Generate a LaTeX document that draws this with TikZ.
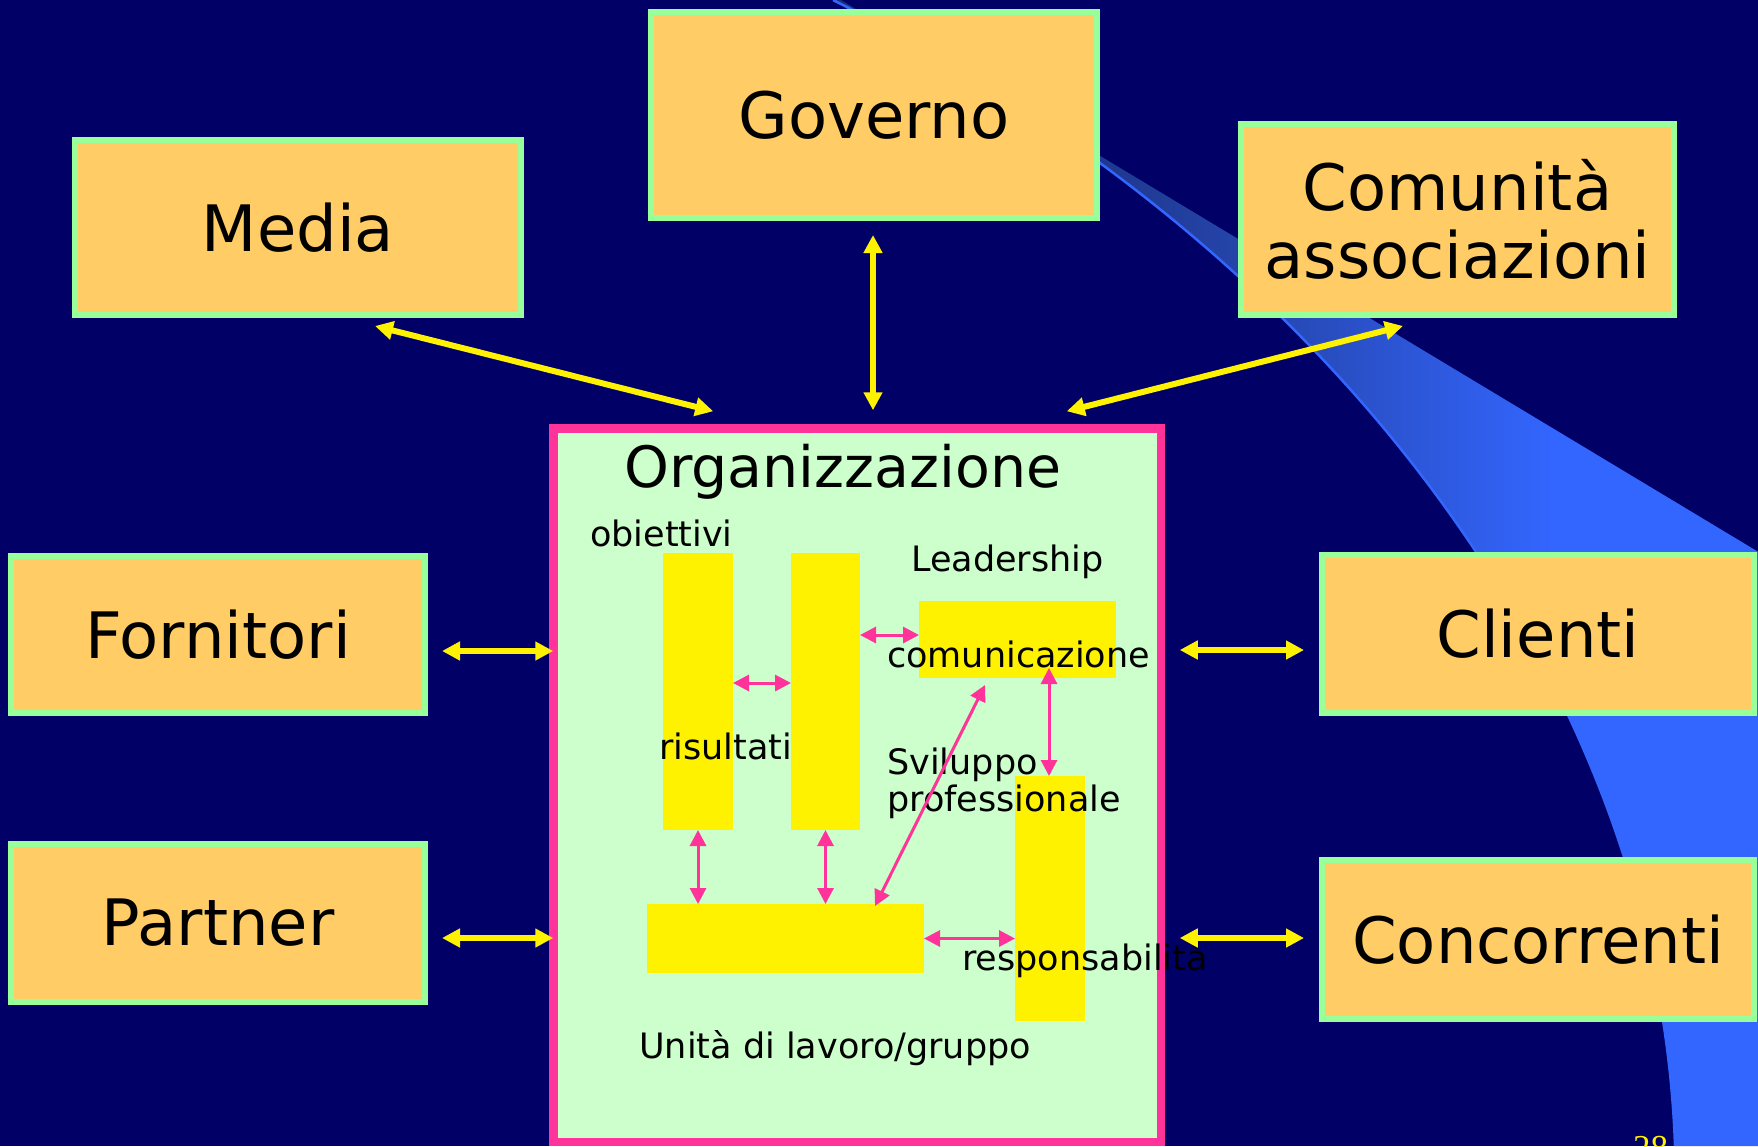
\documentclass[tikz,border=0pt]{standalone}
\usepackage{fontspec}
\setmainfont{DejaVu Sans}
\newfontfamily\numfont{Liberation Serif}
\usetikzlibrary{arrows.meta,calc}

\definecolor{navy}{HTML}{000066}
\definecolor{boxfill}{HTML}{FFCC66}
\definecolor{boxline}{HTML}{99FF99}
\definecolor{orgfill}{HTML}{CCFFCC}
\definecolor{orgline}{HTML}{FF3399}
\definecolor{bandA}{HTML}{1A2F7A}
\definecolor{bandB}{HTML}{2646AE}
\definecolor{bandC}{HTML}{3366FF}

% horizontal blend for the decorative swoosh
\pgfdeclarehorizontalshading{band}{100bp}{color(0bp)=(bandA); color(34bp)=(bandA); color(48bp)=(bandB); color(64bp)=(bandC); color(100bp)=(bandC)}

\tikzset{
  actor/.style={draw=boxline, fill=boxfill, line width=6pt, inner sep=0pt, outer sep=0pt,
    font=\fontsize{64}{68}\selectfont, align=center},
  orgbox/.style={draw=orgline, fill=orgfill, line width=8.5pt, inner sep=0pt, outer sep=0pt},
  bar/.style={fill=yellow, draw=none, inner sep=0pt, outer sep=0pt},
  lbl/.style={anchor=base west, inner sep=0pt, font=\fontsize{35}{37}\selectfont},
  titlelbl/.style={anchor=base west, inner sep=0pt, font=\fontsize{57}{60}\selectfont},
  yarrow/.style={draw=yellow, line width=6pt,
    {Triangle[length=18pt,width=18pt]}-{Triangle[length=18pt,width=18pt]}},
  parrow/.style={draw=orgline, line width=3pt,
    {Triangle[length=16pt,width=16pt]}-{Triangle[length=16pt,width=16pt]}},
}

\begin{document}
\begin{tikzpicture}[x=1pt,y=-1pt]
\useasboundingbox (0,0) rectangle (1758,1146);
\fill[navy] (0,0) rectangle (1758,1146);

% swoosh band
\begin{scope}
  \clip (600,-145) -- (1800,577) -- (1800,1200) -- (600,1200) -- cycle;
  \shade[shading=band] (833,0) .. controls (1350,260) and (1660,700) .. (1675,1146)
    -- (1758,1146) -- (1758,0) -- cycle;
\end{scope}
\draw[bandC, line width=2.5pt] (833,0) .. controls (1350,260) and (1660,700) .. (1675,1146);

% surrounding actors
\node[actor, minimum width=446pt, minimum height=175pt] (media) at (298,227.5) {Media};
\node[actor, minimum width=446pt, minimum height=206pt] (gov) at (874,115) {Governo};
\node[actor, minimum width=433pt, minimum height=191pt] (com) at (1457.5,219.5) {Comunità\\associazioni};
\node[actor, minimum width=414pt, minimum height=157pt] (forn) at (218,634.5) {Fornitori};
\node[actor, minimum width=414pt, minimum height=158pt] (part) at (218,923) {Partner};
\node[actor, minimum width=432pt, minimum height=158pt] (cli) at (1538,634) {Clienti};
\node[actor, minimum width=432pt, minimum height=159pt] (conc) at (1538,939.5) {Concorrenti};

% organisation
\node[orgbox, minimum width=607.5pt, minimum height=713.5pt] (org) at (857,785) {};

\node[bar, minimum width=70pt, minimum height=277pt] (barA) at (698,691.5) {};
\node[bar, minimum width=69pt, minimum height=277pt] (barB) at (825.5,691.5) {};
\node[bar, minimum width=197pt, minimum height=77pt] (lead) at (1017.5,639.5) {};
\node[bar, minimum width=277pt, minimum height=69pt] (unit) at (785.5,938.5) {};
\node[bar, minimum width=70pt, minimum height=245pt] (resp) at (1050,898.5) {};

\node[titlelbl] (tOrg) at (624,487) {Organizzazione};
\node[lbl] (tObi) at (590,546) {obiettivi};
\node[lbl] (tLead) at (911,571) {Leadership};
\node[lbl] (tCom) at (887,667) {comunicazione};
\node[lbl] (tRis) at (659,759) {risultati};
\node[lbl] (tSvi) at (887,774) {Sviluppo};
\node[lbl] (tPro) at (887,811) {professionale};
\node[lbl] (tResp) at (962,970) {responsabilità};
\node[lbl] (tUnit) at (639,1058) {Unità di lavoro/gruppo};

% internal links
\draw[parrow] ($(barA.east)+(0,-8.5)$) -- ($(barB.west)+(0,-8.5)$);
\draw[parrow] ($(barB.east |- lead.west)+(0,-4.5)$) -- ($(lead.west)+(0,-4.5)$);
\draw[parrow] ($(lead.south)+(31.5,-10)$) -- ($(resp.north)+(-1,0)$);
\draw[parrow] (barA.south) -- (barA.south |- unit.north);
\draw[parrow] (barB.south) -- (barB.south |- unit.north);
\draw[parrow] ($(lead.south)+(-32.5,7)$) -- ($(unit.north east)+(-49,2)$);
\draw[parrow] (unit.east) -- (unit.east -| resp.west);

% external links
\draw[yarrow] ($(media.south)+(77,11)$) -- ($(org.north west)+(160,-17)$);
\draw[yarrow] ($(gov.south)+(-1,17)$) -- ($(org.north)+(16,-18)$);
\draw[yarrow] ($(com.south)+(-54.5,11)$) -- ($(org.north east)+(-94,-17)$);
\draw[yarrow] ($(forn.east)+(17,16.5)$) -- ($(forn.east -| org.west)+(0,16.5)$);
\draw[yarrow] ($(part.east)+(17,15)$) -- ($(part.east -| org.west)+(0,15)$);
\draw[yarrow] ($(cli.west)+(-18,16)$) -- ($(cli.west -| org.east)+(19,16)$);
\draw[yarrow] ($(conc.west)+(-18,-1.5)$) -- ($(conc.west -| org.east)+(19,-1.5)$);

% page number, running off the lower edge
\begin{scope}
  \clip (0,0) rectangle (1758,1146);
  \node[anchor=base west, inner sep=0pt, text=yellow, font=\numfont\fontsize{35}{40}\selectfont] (pg) at (1633,1159) {28};
\end{scope}
\end{tikzpicture}
\end{document}
